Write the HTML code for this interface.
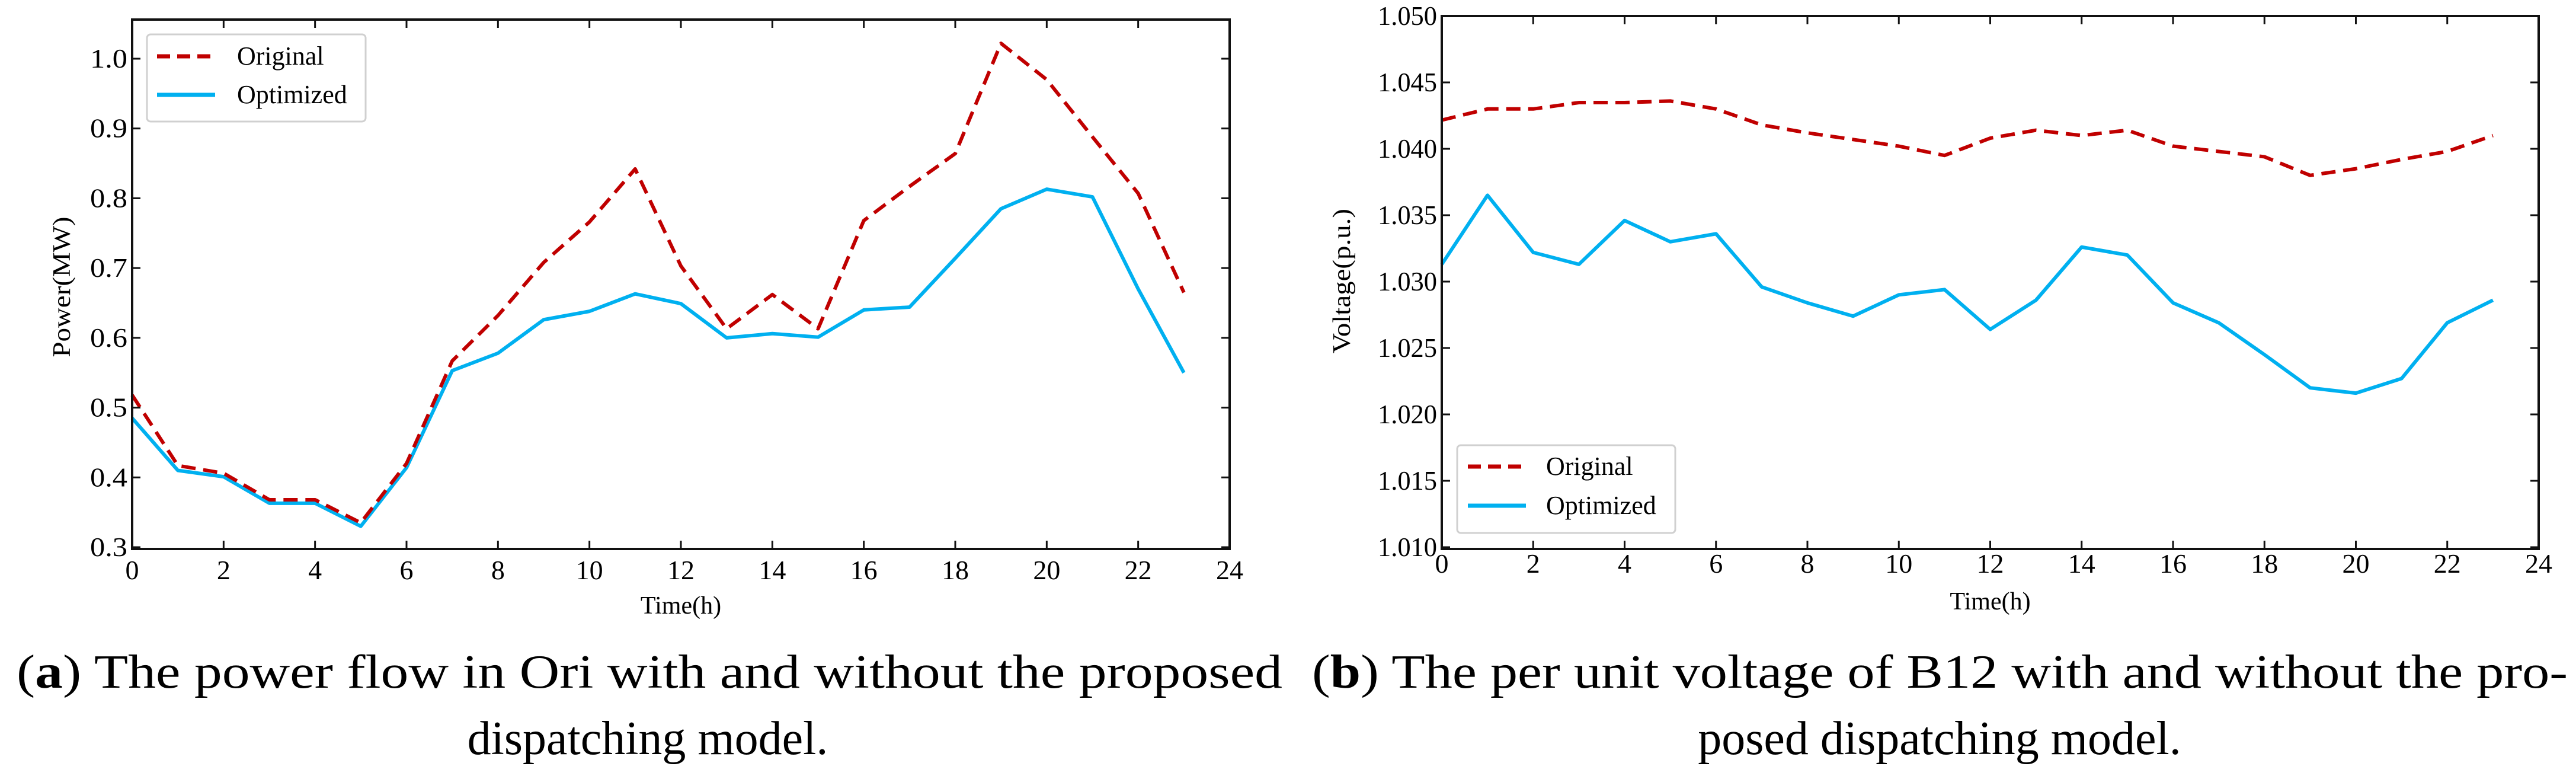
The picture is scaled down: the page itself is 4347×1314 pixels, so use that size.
<!DOCTYPE html>
<html><head><meta charset="utf-8"><style>
html,body{margin:0;padding:0;background:#fff;}
svg{display:block;font-family:"Liberation Serif",serif;}
</style></head><body>
<svg id="fig" width="4347" height="1314" viewBox="0 0 4347 1314" xmlns="http://www.w3.org/2000/svg">
<rect width="4347" height="1314" fill="#fff"/>
<g id="chartA"></g>
<g id="chartB"></g>
<text x="28" y="1160" font-size="80" textLength="2136" lengthAdjust="spacingAndGlyphs">(<tspan font-weight="bold">a</tspan>) The power flow in Ori with and without the proposed</text>
<text x="1093" y="1272" font-size="80" text-anchor="middle">dispatching model.</text>
<text x="2214" y="1160" font-size="80" textLength="2119" lengthAdjust="spacingAndGlyphs">(<tspan font-weight="bold">b</tspan>) The per unit voltage of B12 with and without the pro-</text>
<text x="3273" y="1272" font-size="80" text-anchor="middle">posed dispatching model.</text>
</svg>
<script>
const hours = [0,1,2,3,4,5,6,7,8,9,10,11,12,13,14,15,16,17,18,19,20,21,22,23];
const powerOriginal = [0.518,0.417,0.406,0.368,0.368,0.335,0.42,0.567,0.632,0.708,0.766,0.842,0.703,0.613,0.662,0.613,0.768,0.817,0.864,1.022,0.970,0.888,0.807,0.665];
const powerOptimized = [0.485,0.41,0.401,0.363,0.363,0.33,0.414,0.553,0.578,0.626,0.638,0.663,0.649,0.6,0.606,0.601,0.64,0.644,0.714,0.785,0.813,0.802,0.670,0.55];
const voltOriginal = [1.04216,1.0430,1.0430,1.04348,1.04348,1.0436,1.0430,1.0418,1.0412,1.0407,1.0402,1.0395,1.0408,1.0414,1.0410,1.0414,1.0402,1.0398,1.0394,1.0380,1.0385,1.0392,1.0398,1.0410];
const voltOptimized = [1.0313,1.0365,1.0322,1.0313,1.0346,1.0330,1.0336,1.0296,1.0284,1.0274,1.0290,1.0294,1.0264,1.0286,1.0326,1.0320,1.0284,1.0269,1.0245,1.0220,1.0216,1.0227,1.0269,1.0286];
const xTicks = [0,2,4,6,8,10,12,14,16,18,20,22,24];
const powerTicks = [0.3,0.4,0.5,0.6,0.7,0.8,0.9,1.0];
const voltTicks = [1.010,1.015,1.020,1.025,1.030,1.035,1.040,1.045,1.050];

const NS='http://www.w3.org/2000/svg';
function mk(parent, tag, attrs){const e=document.createElementNS(NS,tag);for(const k in attrs)e.setAttribute(k,attrs[k]);parent.appendChild(e);return e;}

function drawChart(g, cfg){
  const sx=v=>cfg.x0+(v-0)/(24-0)*(cfg.x1-cfg.x0);
  const sy=v=>cfg.yA+(v-cfg.vA)/(cfg.vB-cfg.vA)*(cfg.yB-cfg.yA);
  // series
  const mkLine=(vals,color,dash,name)=>{
    const p=mk(g,'polyline',{points:vals.map((v,i)=>sx(hours[i])+','+sy(v)).join(' '),fill:'none',stroke:color,'stroke-width':6,'stroke-linejoin':'round'});
    if(dash)p.setAttribute('stroke-dasharray',dash);
    
    
  };
  mkLine(cfg.opt,'#00b0f0',null,cfg.pre+'-optimized-line');
  mkLine(cfg.orig,'#c00000','24 13',cfg.pre+'-original-line');
  // frame
  const fr=mk(g,'rect',{x:cfg.x0,y:cfg.top,width:cfg.x1-cfg.x0,height:cfg.bot-cfg.top,fill:'none',stroke:'#111','stroke-width':4});
  
  
  xTicks.forEach(t=>{
    const x=sx(t);
    mk(g,'line',{x1:x,x2:x,y1:cfg.bot,y2:cfg.bot-14,stroke:'#111','stroke-width':3});
    mk(g,'line',{x1:x,x2:x,y1:cfg.top,y2:cfg.top+14,stroke:'#111','stroke-width':3});
    const tx=mk(g,'text',{x:x,y:cfg.xLabY,'font-size':46,'text-anchor':'middle'});
    tx.textContent=t;
    
    
  });
  cfg.ticks.forEach(t=>{
    const y=sy(t);
    mk(g,'line',{x1:cfg.x0,x2:cfg.x0+14,y1:y,y2:y,stroke:'#111','stroke-width':3});
    mk(g,'line',{x1:cfg.x1,x2:cfg.x1-14,y1:y,y2:y,stroke:'#111','stroke-width':3});
    const tx=mk(g,'text',{x:cfg.x0-8,y:y+15,'font-size':46,'text-anchor':'end',textLength:cfg.tlw*(t.toFixed(cfg.dec).length),lengthAdjust:'spacingAndGlyphs'});
    tx.textContent=t.toFixed(cfg.dec);
    
    
  });
  const xt=mk(g,'text',{x:(cfg.x0+cfg.x1)/2,y:cfg.xTitleY,'font-size':42,'text-anchor':'middle'});
  xt.textContent='Time(h)';
  
  
  const yt=mk(g,'text',{x:0,y:0,'font-size':42,'text-anchor':'middle',transform:`translate(${cfg.ytX},${cfg.ytY}) rotate(-90)`,textLength:cfg.ytLen,lengthAdjust:'spacingAndGlyphs'});
  yt.textContent=cfg.ytitle;
  
  
  // legend
  const L=cfg.leg;
  const lg=mk(g,'g',{});
  
  
  mk(lg,'rect',{x:L.x,y:L.y,width:L.w,height:L.h,rx:6,fill:'#fff',stroke:'#d0d0d0','stroke-width':3});
  mk(lg,'line',{x1:L.sx,x2:L.sx+98,y1:L.y1,y2:L.y1,stroke:'#c00000','stroke-width':7,'stroke-dasharray':'22 12'});
  mk(lg,'line',{x1:L.sx,x2:L.sx+98,y1:L.y2,y2:L.y2,stroke:'#00b0f0','stroke-width':7});
  const e1=mk(lg,'text',{x:L.tx,y:L.y1+14,'font-size':44});
  e1.textContent='Original';
  
  
  const e2=mk(lg,'text',{x:L.tx,y:L.y2+14,'font-size':44});
  e2.textContent='Optimized';
  
  
}

drawChart(document.getElementById('chartA'),{pre:'power',x0:223,x1:2075,top:33,bot:926,vA:0.3,yA:923,vB:1.0,yB:99,
  orig:powerOriginal,opt:powerOptimized,ticks:powerTicks,dec:1,tlw:21,xLabY:977,xTitleY:1035,
  ytitle:'Power(MW)',ytX:118,ytY:484,ytLen:237,
  leg:{x:248,y:58,w:369,h:147,sx:265,y1:95,y2:160,tx:400}});
drawChart(document.getElementById('chartB'),{pre:'voltage',x0:2433,x1:4284,top:27,bot:926,vA:1.010,yA:923,vB:1.050,yB:27,
  orig:voltOriginal,opt:voltOptimized,ticks:voltTicks,dec:3,tlw:20,xLabY:966,xTitleY:1028,
  ytitle:'Voltage(p.u.)',ytX:2278,ytY:474,ytLen:244,
  leg:{x:2459,y:751,w:368,h:148,sx:2477,y1:787,y2:853,tx:2609}});
</script>
</body></html>
